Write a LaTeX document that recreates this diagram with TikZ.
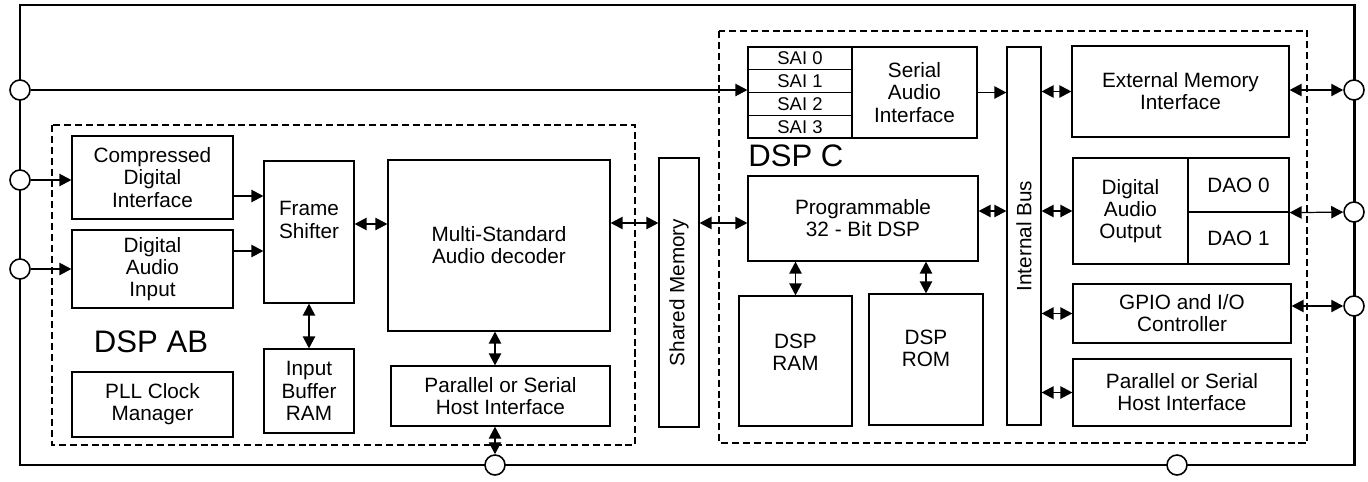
\documentclass[tikz,border=0pt]{standalone}
\usepackage{fontspec}
\setsansfont{Liberation Sans}
\usetikzlibrary{arrows.meta,positioning}

\begin{document}
\begin{tikzpicture}[x=0.2mm, y=-0.2mm,
  every node/.style={font=\sffamily\fontsize{11.8}{12.6}\selectfont},
  blk/.style 2 args={draw, line width=0.7pt, align=center, inner sep=0pt, minimum width=#1*0.2mm, minimum height=#2*0.2mm},
  sig/.style={-{Triangle[length=6.8pt,width=7pt]}, line width=0.7pt},
  both/.style={{Triangle[length=6.8pt,width=7pt]}-{Triangle[length=6.8pt,width=7pt]}, line width=0.7pt},
  port/.style={circle, draw, fill=white, line width=0.9pt, minimum size=4mm, inner sep=0pt},
  zone/.style={dash pattern=on 4pt off 2.2pt, line width=0.6pt},
  zonelabel/.style={font=\sffamily\fontsize{17.7}{20}\selectfont, inner sep=0pt}]
\useasboundingbox (0,0) rectangle (1368,481);
% chip outline and the two DSP areas
\draw[line width=1.7pt] (20,5) rectangle (1354,465);
\draw[zone] (52,125) rectangle (635,445);
\draw[zone] (719,31) rectangle (1307,443);

% DSP AB
\node[blk={161}{83}] (cdi) at (152.5,177.5) {Compressed\\Digital\\Interface};
\node[blk={161}{78}] (dai) at (152.5,269) {Digital\\Audio\\Input};
\node[blk={90}{142}, label={[align=center,yshift=2.4mm]center:Frame\\Shifter}] (frame) at (309,232) {};
\node[blk={90}{84}] (ibr) at (309,391) {Input\\Buffer\\RAM};
\node[blk={161}{65}] (pll) at (152.5,404.5) {PLL Clock\\Manager};
\node[zonelabel] (dspab) at (151,342) {DSP AB};
\node[blk={222}{171}] (msad) at (499,245.5) {Multi-Standard\\Audio decoder};
\node[blk={219}{60}] (hostab) at (500.5,396) {Parallel or Serial\\Host Interface};
\node[blk={40}{269}] (shm) at (679,292.5) {\rotatebox{90}{Shared Memory}};

% DSP C
\foreach \i in {0,...,3}
  \node[blk={104}{22.75}, font=\sffamily\fontsize{10.5}{12}\selectfont] (sai\i) at (800,{58.4+22.75*\i}) {SAI \i};
\node[blk={125}{91}] (sai) at (914.5,92.5) {Serial\\Audio\\Interface};
\node[zonelabel, anchor=west] (dspc) at (748,156) {DSP C};
\node[blk={230}{85}] (prog) at (863,218.5) {Programmable\\32 - Bit DSP};
\node[blk={113}{130}, label={[align=center,yshift=1.8mm]center:DSP\\RAM}] (dram) at (795.5,361) {};
\node[blk={114}{131}, label={[align=center,yshift=2.3mm]center:DSP\\ROM}] (drom) at (926,359.5) {};
\node[blk={34}{378}] (bus) at (1024,236) {\rotatebox{90}{Internal Bus}};
\node[blk={217}{91}] (emi) at (1180.5,91.5) {External Memory\\Interface};
\node[blk={115}{106}] (dao) at (1130.5,211) {Digital\\Audio\\Output};
\node[blk={101}{54}] (dao0) at (1238.5,185) {DAO 0};
\node[blk={101}{52}] (dao1) at (1238.5,238) {DAO 1};
\node[blk={218}{59}] (gpio) at (1182,313.5) {GPIO and I/O\\Controller};
\node[blk={218}{67}] (hostc) at (1182,392.5) {Parallel or Serial\\Host Interface};

% pins on the chip outline
\foreach \n/\x/\y in {pa/20/90, pb/20/180, pc/20/269, pd/1354/90, pe/1354/212, pf/1354/306, pg/495/465, ph/1177/465}
  \node[port] (\n) at (\x,\y) {};

% links
\coordinate (c1) at ([yshift=-3.7mm]cdi.east);
\coordinate (c2) at ([yshift=3.6mm]dai.east);
\coordinate (c3) at ([yshift=1.6mm]frame.east);
\coordinate (c4) at ([yshift=4.5mm]msad.east);
\coordinate (c5) at ([yshift=1.5mm]prog.east);
\draw[sig] (pa) -- (pa -| sai1.west);
\draw[sig] (pb) -- (pb -| cdi.west);
\draw[sig] (pc) -- (dai);
\draw[sig] (c1) -- (c1 -| frame.west);
\draw[sig] (c2) -- (c2 -| frame.west);
\draw[both] (c3) -- (c3 -| msad.west);
\draw[both] (frame) -- (ibr);
\draw[both] (c4) -- (c4 -| shm.west);
\draw[both] (c4 -| shm.east) -- (c4 -| prog.west);
\draw[both] (pg |- msad.south) -- (pg |- hostab.north);
\draw[both] (pg |- hostab.south) -- (pg);
\draw[sig] (sai) -- (sai -| bus.west);
\draw[both] (c5) -- (c5 -| bus.west);
\draw[both] (prog.south -| dram.north) -- (dram);
\draw[both] (prog.south -| drom.north) -- (drom);
\draw[both] (bus.east |- emi.west) -- (emi.west);
\draw[both] (bus.east |- dao.west) -- (dao.west);
\draw[both] (bus.east |- gpio.west) -- (gpio.west);
\draw[both] (bus.east |- hostc.west) -- (hostc.west);
\draw[both] (emi.east |- pd) -- (pd);
\draw[both] (dao0.south east) -- (pe);
\draw[both] (gpio.east |- pf) -- (pf);
\end{tikzpicture}
\end{document}
